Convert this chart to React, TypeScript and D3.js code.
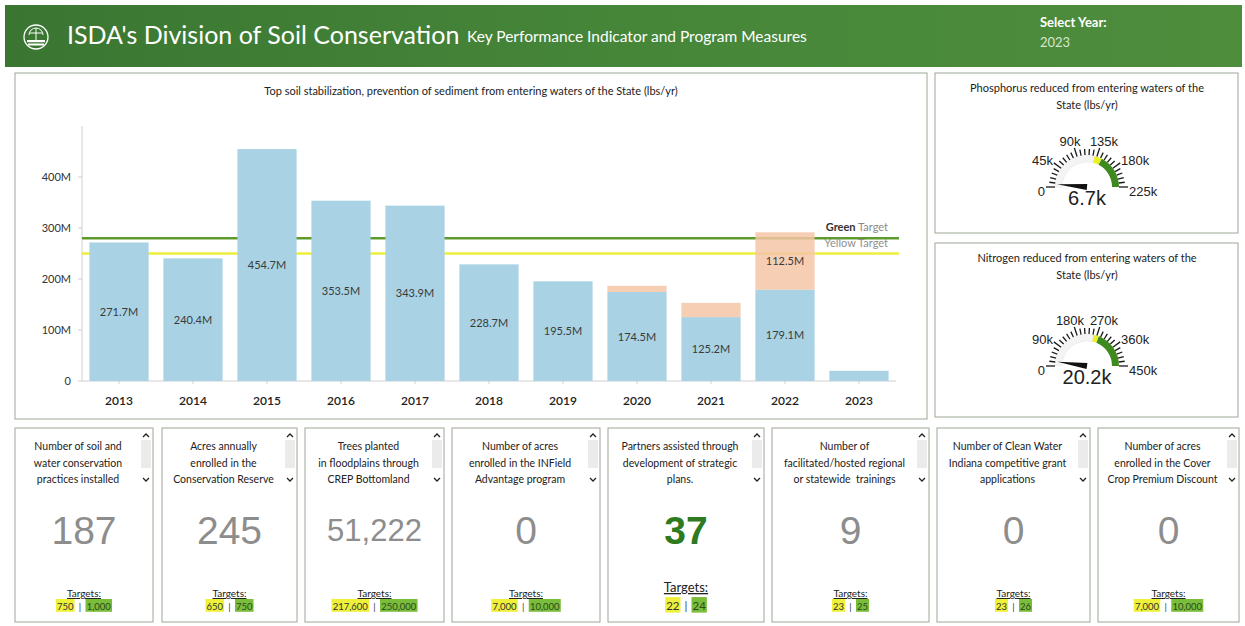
import React from 'react';
import * as d3 from 'd3';

// ---------- DATA ----------
const years = ['2013', '2014', '2015', '2016', '2017', '2018', '2019', '2020', '2021', '2022', '2023'];
const baseValues = [271.7, 240.4, 454.7, 353.5, 343.9, 228.7, 195.5, 174.5, 125.2, 179.1, 20];
const extraValues = [0, 0, 0, 0, 0, 0, 0, 12, 28, 112.5, 0];
const yTicks = [0, 100, 200, 300, 400];
const greenTarget = 280;
const yellowTarget = 250;

const gaugeTitles = [
  ['Phosphorus reduced from entering waters of the', 'State (lbs/yr)'],
  ['Nitrogen reduced from entering waters of the', 'State (lbs/yr)'],
];
const gaugeValues = [6.7, 20.2];
const gaugeMaxes = [225, 450];
const gaugeYellow = [130, 255];
const gaugeGreen = [147, 280];

const cardTitles = [
  ['Number of soil and', 'water conservation', 'practices installed'],
  ['Acres annually', 'enrolled in the', 'Conservation Reserve'],
  ['Trees planted', 'in floodplains through', 'CREP Bottomland'],
  ['Number of acres', 'enrolled in the INField', 'Advantage program'],
  ['Partners assisted through', 'development of strategic', 'plans.'],
  ['Number of', 'facilitated/hosted regional', 'or statewide  trainings'],
  ['Number of Clean Water', 'Indiana competitive grant', 'applications'],
  ['Number of acres', 'enrolled in the Cover', 'Crop Premium Discount'],
];
const cardValues = ['187', '245', '51,222', '0', '37', '9', '0', '0'];
const cardYellow = ['750', '650', '217,600', '7,000', '22', '23', '23', '7,000'];
const cardGreen = ['1,000', '750', '250,000', '10,000', '24', '25', '26', '10,000'];
const cardMet = [false, false, false, false, true, false, false, false];

// ---------- LAYOUT ----------
const W = 1245;
const H = 626;
const CARD_LEFT = [15, 162, 305, 452, 608, 772, 937, 1098];
const CARD_RIGHT = [153, 297, 444, 600, 764, 929, 1090, 1239];
const CARD_TOP = 428;
const CARD_BOTTOM = 622;

const SANS = 'Lato, "Open Sans", sans-serif';
const ARIAL = '"Liberation Sans", Arial, sans-serif';
const BORDER = '#9ca895';

function textW(s: string, size: number) {
  let w = 0;
  for (const c of s) {
    if (c >= '0' && c <= '9') w += 0.58;
    else if (c === ',' || c === '.') w += 0.26;
    else w += 0.5;
  }
  return w * size;
}

function Header() {
  return (
    <g>
      <defs>
        <linearGradient id="hdr" x1="0" x2="1" y1="0" y2="0">
          <stop offset="0" stopColor="#3a7632" />
          <stop offset="0.5" stopColor="#468639" />
          <stop offset="1" stopColor="#4e8d3c" />
        </linearGradient>
      </defs>
      <rect x={5} y={5} width={1237} height={62} fill="url(#hdr)" />
      {/* logo */}
      <g transform="translate(36,37)" stroke="#fff" fill="none" strokeWidth={1}>
        <circle r={12} strokeWidth={1.3} />
        <path d="M-7,-2 A7,7 0 0 1 7,-2" />
        <line x1={0} y1={-9} x2={0} y2={3} />
        <line x1={-6} y1={-4} x2={6} y2={-4} />
        <rect x={-9} y={3} width={18} height={2.2} fill="#fff" stroke="none" />
        <rect x={-8} y={6.5} width={16} height={2} fill="#fff" stroke="none" />
      </g>
      <text x={67} y={44} fill="#fff" fontFamily={SANS} fontSize={25}>ISDA's Division of Soil Conservation</text>
      <text x={467} y={42} fill="#fff" fontFamily={SANS} fontSize={15.5}>Key Performance Indicator and Program Measures</text>
      <text x={1040} y={27} fill="#fff" fontFamily={SANS} fontSize={13} fontWeight={700}>Select Year:</text>
      <text x={1040} y={47} fill="#d6e6cf" fontFamily={SANS} fontSize={13}>2023</text>
    </g>
  );
}

function BarChart() {
  const x = d3.scaleBand<string>().domain(years).range([82, 896]).paddingInner(0.2).paddingOuter(0.1);
  const y = d3.scaleLinear().domain([0, 500]).range([381, 126]);
  const bw = x.bandwidth();
  return (
    <g>
      <rect x={15} y={73} width={912} height={346} fill="#fff" stroke={BORDER} strokeWidth={1} />
      <text x={471} y={95} textAnchor="middle" fontFamily={SANS} fontSize={11} fill="#222">
        Top soil stabilization, prevention of sediment from entering waters of the State (lbs/yr)
      </text>
      {/* axes */}
      <line x1={82} x2={82} y1={y(500)} y2={y(0)} stroke="#cfcfcf" />
      <line x1={82} x2={896} y1={y(0)} y2={y(0)} stroke="#cfcfcf" />
      {yTicks.map((t) => (
        <g key={t}>
          <line x1={78} x2={82} y1={y(t)} y2={y(t)} stroke="#cfcfcf" />
          <text x={71} y={y(t) + 4} textAnchor="end" fontFamily={SANS} fontSize={11} fill="#333">
            {t === 0 ? '0' : `${t}M`}
          </text>
        </g>
      ))}
      {/* target lines */}
      <line x1={82} x2={899} y1={y(greenTarget)} y2={y(greenTarget)} stroke="#5f9a2c" strokeWidth={2.5} />
      <line x1={82} x2={899} y1={y(yellowTarget)} y2={y(yellowTarget)} stroke="#eeee3c" strokeWidth={2.5} />
      <text x={888} y={y(greenTarget) - 7} textAnchor="end" fontFamily={SANS} fontSize={11}>
        <tspan fill="#333" fontWeight={700}>Green</tspan>
        <tspan fill="#8a8a8a"> Target</tspan>
      </text>
      <text x={888} y={y(yellowTarget) - 6.5} textAnchor="end" fontFamily={SANS} fontSize={11} fill="#8f8f8f">
        Yellow Target
      </text>
      {/* bars */}
      {years.map((yr, i) => {
        const bx = x(yr)!;
        const b = baseValues[i];
        const e = extraValues[i];
        const y0 = y(0);
        const y1 = y(b);
        const y2 = y(b + e);
        return (
          <g key={yr}>
            <rect x={bx} y={y1} width={bw} height={y0 - y1} fill="#a9d3e4" />
            {e > 0 && <rect x={bx} y={y2} width={bw} height={y1 - y2} fill="#f5c6a6" opacity={0.85} />}
            {y0 - y1 > 30 && (
              <text x={bx + bw / 2} y={(y0 + y1) / 2 + 4} textAnchor="middle" fontFamily={SANS} fontSize={11} fill="#3a3a3a">
                {`${b.toFixed(1)}M`}
              </text>
            )}
            {y1 - y2 > 30 && (
              <text x={bx + bw / 2} y={(y1 + y2) / 2 + 4} textAnchor="middle" fontFamily={SANS} fontSize={11} fill="#3a3a3a">
                {`${e.toFixed(1)}M`}
              </text>
            )}
            <line x1={bx + bw / 2} x2={bx + bw / 2} y1={y0} y2={y0 + 3} stroke="#cfcfcf" />
            <text x={bx + bw / 2} y={405} textAnchor="middle" fontFamily={SANS} fontSize={12} fontWeight={600} fill="#222">
              {yr}
            </text>
          </g>
        );
      })}
    </g>
  );
}

function Gauge({ idx, top, bottom, cy }: { idx: number; top: number; bottom: number; cy: number }) {
  const cx = 1087;
  const max = gaugeMaxes[idx];
  const a = d3.scaleLinear().domain([0, max]).range([-Math.PI / 2, Math.PI / 2]);
  const arc = d3.arc<any>();
  const rIn = 25;
  const rOut = 32;
  const band = (s: number, e: number) =>
    arc({ innerRadius: rIn, outerRadius: rOut, startAngle: a(s), endAngle: a(e) }) as string;
  const ticks = d3.range(26).map((i) => (i * max) / 25);
  const labels = d3.range(6).map((i) => (i * max) / 5);
  const v = gaugeValues[idx];
  const av = a(v);
  const tip = [cx + 30 * Math.sin(av), cy - 30 * Math.cos(av)];
  const p1 = [cx + 3 * Math.cos(av), cy + 3 * Math.sin(av)];
  const p2 = [cx - 3 * Math.cos(av), cy - 3 * Math.sin(av)];
  return (
    <g>
      <rect x={935} y={top} width={303} height={bottom - top} fill="#fff" stroke={BORDER} />
      <text textAnchor="middle" fontFamily={SANS} fontSize={11} fill="#222">
        <tspan x={cx} y={top + 19}>{gaugeTitles[idx][0]}</tspan>
        <tspan x={cx} y={top + 36}>{gaugeTitles[idx][1]}</tspan>
      </text>
      <path d={band(0, gaugeYellow[idx])} transform={`translate(${cx},${cy})`} fill="#f4f4f4" stroke="#e4e4e4" strokeWidth={0.5} />
      <path d={band(gaugeYellow[idx], gaugeGreen[idx])} transform={`translate(${cx},${cy})`} fill="#eaf02a" />
      <path d={band(gaugeGreen[idx], max)} transform={`translate(${cx},${cy})`} fill="#3f8a1e" />
      {ticks.map((t, i) => {
        const ang = a(t);
        const r2 = i % 5 === 0 ? 41 : 38;
        return (
          <line
            key={i}
            x1={cx + rOut * Math.sin(ang)}
            y1={cy - rOut * Math.cos(ang)}
            x2={cx + r2 * Math.sin(ang)}
            y2={cy - r2 * Math.cos(ang)}
            stroke="#1a1a1a"
            strokeWidth={1.3}
          />
        );
      })}
      {labels.map((t, i) => {
        const ang = a(t);
        const s = Math.sin(ang);
        const side = Math.abs(s) > 0.35;
        const anchor = !side ? 'middle' : s < 0 ? 'end' : 'start';
        const lx = cx + (side ? 42 : 55) * s;
        const ly = cy - 52 * Math.cos(ang) + 4 + 4.5;
        return (
          <text key={i} x={lx} y={ly} textAnchor={anchor} fontFamily={ARIAL} fontSize={13} fill="#222">
            {t === 0 ? '0' : `${t}k`}
          </text>
        );
      })}
      <polygon points={`${tip[0]},${tip[1]} ${p1[0]},${p1[1]} ${p2[0]},${p2[1]}`} fill="#111" />
      <text x={cx} y={cy + 18} textAnchor="middle" fontFamily={ARIAL} fontSize={20} fill="#222">
        {`${v}k`}
      </text>
    </g>
  );
}

function Card({ i }: { i: number }) {
  const l = CARD_LEFT[i];
  const r = CARD_RIGHT[i];
  const cx = (l + r) / 2;
  const big = cardValues[i].length > 4 ? 31 : 39;
  const met = cardMet[i];
  const tSize = met ? 11.5 : 9.5;
  const yw = textW(cardYellow[i], tSize) + 2;
  const gw = textW(cardGreen[i], tSize) + 2;
  const sep = 11;
  const total = yw + sep + gw;
  const sx = cx - total / 2;
  const rowY = 608;
  return (
    <g>
      <rect x={l} y={CARD_TOP} width={r - l} height={CARD_BOTTOM - CARD_TOP} fill="#fff" stroke={BORDER} />
      {/* scroll controls */}
      <rect x={r - 12} y={CARD_TOP + 12} width={10} height={28} fill="#ebebeb" />
      <path d={`M${r - 10},${CARD_TOP + 9} L${r - 7},${CARD_TOP + 6} L${r - 4},${CARD_TOP + 9}`} stroke="#222" strokeWidth={1.3} fill="none" />
      <path d={`M${r - 10},${CARD_TOP + 50} L${r - 7},${CARD_TOP + 53} L${r - 4},${CARD_TOP + 50}`} stroke="#222" strokeWidth={1.3} fill="none" />
      <text textAnchor="middle" fontFamily={SANS} fontSize={10.5} fill="#222" style={{ whiteSpace: 'pre' }}>
        {cardTitles[i].map((t, k) => (
          <tspan key={k} x={cx - 6} y={CARD_TOP + 22 + k * 16.5}>
            {t}
          </tspan>
        ))}
      </text>
      <text
        x={cx}
        y={CARD_TOP + 116 - (big < 39 ? 3 : 0)}
        textAnchor="middle"
        fontFamily={ARIAL}
        fontSize={big}
        fontWeight={met ? 700 : 400}
        fill={met ? '#2e7a1e' : '#8d8d8d'}
      >
        {cardValues[i]}
      </text>
      <text x={cx} y={met ? 592 : 597} textAnchor="middle" fontFamily={SANS} fontSize={met ? 13 : 10} fill="#222" textDecoration="underline">
        Targets:
      </text>
      <rect x={sx} y={rowY - tSize * 0.95} width={yw} height={tSize * 1.35} fill="#eef03a" />
      <text x={sx + yw / 2} y={rowY + 2} textAnchor="middle" fontFamily={SANS} fontSize={tSize} fill="#333">
        {cardYellow[i]}
      </text>
      <text x={sx + yw + sep / 2} y={rowY + 2} textAnchor="middle" fontFamily={SANS} fontSize={tSize} fill="#333">
        |
      </text>
      <rect x={sx + yw + sep} y={rowY - tSize * 0.95} width={gw} height={tSize * 1.35} fill="#79bd3a" />
      <text x={sx + yw + sep + gw / 2} y={rowY + 2} textAnchor="middle" fontFamily={SANS} fontSize={tSize} fill="#2f4a1f">
        {cardGreen[i]}
      </text>
    </g>
  );
}

export default function App() {
  return (
    <svg
      width={W}
      height={H}
      viewBox={`0 0 ${W} ${H}`}
      style={{ position: 'absolute', left: 0, top: 0, display: 'block', background: '#fff' }}
    >
      <rect width={W} height={H} fill="#fff" />
      <Header />
      <BarChart />
      <Gauge idx={0} top={73} bottom={233} cy={187} />
      <Gauge idx={1} top={243} bottom={417} cy={366} />
      {cardTitles.map((_, i) => (
        <Card key={i} i={i} />
      ))}
    </svg>
  );
}
